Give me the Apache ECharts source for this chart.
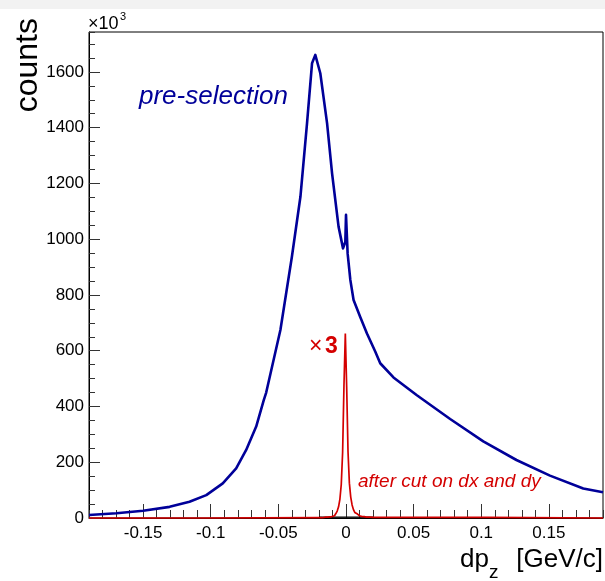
<!DOCTYPE html>
<html>
<head>
<meta charset="utf-8">
<script src="https://cdn.jsdelivr.net/npm/echarts@6/dist/echarts.min.js"></script>
<style>html,body{margin:0;padding:0;background:#fff;}#c{width:605px;height:581px;}</style>
</head>
<body>
<div id="c"></div>
<script>
// ---- data ----
const blueX = [-0.19, -0.1697, -0.150, -0.1304, -0.1157, -0.1033, -0.0911, -0.0812, -0.0738, -0.0664, -0.0608, -0.059, -0.0485, -0.040, -0.0337, -0.0288, -0.0251, -0.0227, -0.019, -0.014, -0.0103, -0.0055, -0.0022, -0.0005, 0.0, 0.0008, 0.0012, 0.0032, 0.0056, 0.0106, 0.0155, 0.0216, 0.0253, 0.0351, 0.0524, 0.077, 0.1015, 0.126, 0.1508, 0.1754, 0.19];
const blueY = [11, 17, 26, 40, 58, 82, 124, 178, 244, 328, 423, 450, 674, 937, 1152, 1416, 1631, 1661, 1595, 1416, 1236, 1045, 967, 990, 1087, 1087, 949, 854, 782, 720, 662, 597, 555, 504, 440, 355, 275, 208, 152, 106, 92];

const redX = [-0.19, -0.02, -0.015, -0.012, -0.011, -0.010, -0.009, -0.008, -0.007, -0.006, -0.005, -0.004, -0.003, -0.002, -0.001, 0.0, 0.001, 0.002, 0.003, 0.004, 0.005, 0.006, 0.007, 0.008, 0.009, 0.010, 0.011, 0.012, 0.015, 0.02, 0.19];
const redY = [0, 1, 3, 4, 5, 6, 8, 11, 16, 25, 40, 68, 120, 235, 475, 662, 470, 237, 125, 75, 47, 30, 20, 14, 10, 8, 6, 5, 3, 2, 0];

const blackX = [-0.02, -0.01, 0.0, 0.01, 0.02];
const blackY = [3, 3, 3, 3, 3];

const xTickLabels = [-0.15, -0.1, -0.05, 0, 0.05, 0.1, 0.15];
const yTickLabels = [0, 200, 400, 600, 800, 1000, 1200, 1400, 1600];

const xMin = -0.19, xMax = 0.19, yMin = 0, yMax = 1743;

const zip = (a, b) => a.map((v, i) => [v, b[i]]);

const FF = '"Liberation Sans", Arial, Helvetica, sans-serif';
const BLUE = '#000099';
const RED = '#d40000';

function fmtX(v) {
  if (Math.abs(v) < 1e-9) return '0';
  return String(Math.round(v * 100) / 100);
}
function fmtY(v) { return String(Math.round(v)); }

const chart = echarts.init(document.getElementById('c'), null, {renderer: 'canvas'});
chart.setOption({
  animation: false,
  backgroundColor: '#ffffff',
  grid: {left: 89, right: 2, top: 32, bottom: 63, show: true, borderColor: '#000', borderWidth: 1, backgroundColor: 'transparent'},
  xAxis: [
    {
      type: 'value', min: xMin, max: xMax, gridIndex: 0, position: 'bottom',
      axisLine: {show: true, onZero: false, lineStyle: {color: '#000', width: 1}},
      axisTick: {show: true, inside: true, length: 14, customValues: xTickLabels, lineStyle: {color: '#333', width: 1}},
      axisLabel: {show: true, customValues: xTickLabels, formatter: fmtX, fontSize: 17, fontFamily: FF, color: '#000', margin: 7},
      splitLine: {show: false}
    },
    {
      type: 'value', min: xMin, max: xMax, interval: 0.01, gridIndex: 0, position: 'bottom',
      axisLine: {show: false, onZero: false},
      axisTick: {show: true, inside: true, length: 8, lineStyle: {color: '#333', width: 1}},
      axisLabel: {show: false},
      splitLine: {show: false}
    }
  ],
  yAxis: [
    {
      type: 'value', min: yMin, max: yMax, gridIndex: 0, position: 'left',
      axisLine: {show: true, onZero: false, lineStyle: {color: '#000', width: 1}},
      axisTick: {show: true, inside: true, length: 11, customValues: yTickLabels, lineStyle: {color: '#333', width: 1}},
      axisLabel: {show: true, customValues: yTickLabels, formatter: fmtY, fontSize: 17, fontFamily: FF, color: '#000', margin: 5},
      splitLine: {show: false}
    },
    {
      type: 'value', min: yMin, max: yMax, interval: 50, gridIndex: 0, position: 'left',
      axisLine: {show: false, onZero: false},
      axisTick: {show: true, inside: true, length: 6, lineStyle: {color: '#333', width: 1}},
      axisLabel: {show: false},
      splitLine: {show: false}
    }
  ],
  series: [
    {
      type: 'line', name: 'pre-selection', xAxisIndex: 0, yAxisIndex: 0,
      data: zip(blueX, blueY), showSymbol: false, symbol: 'none',
      lineStyle: {color: BLUE, width: 2.6, join: 'round'}, z: 3, clip: true
    },
    {
      type: 'line', name: 'black', xAxisIndex: 0, yAxisIndex: 0,
      data: zip(blackX, blackY), showSymbol: false, symbol: 'none',
      lineStyle: {color: '#000', width: 1.2}, z: 4, clip: true
    },
    {
      type: 'line', name: 'after cut', xAxisIndex: 0, yAxisIndex: 0, step: 'middle',
      data: zip(redX, redY), showSymbol: false, symbol: 'none',
      lineStyle: {color: RED, width: 1.7}, z: 5, clip: false
    }
  ],
  graphic: [
    {type: 'rect', shape: {x: 0, y: 0, width: 605, height: 9}, style: {fill: '#f2f2f2'}, z: -10},
    {type: 'text', x: 28, y: 18, rotation: Math.PI / 2,
      style: {text: 'counts', font: '32px ' + FF, fill: '#000', align: 'right', verticalAlign: 'middle'}},
    {type: 'text', x: 88, y: 24,
      style: {text: '\u00d710', font: '18px ' + FF, fill: '#000', align: 'left', verticalAlign: 'middle'}},
    {type: 'text', x: 120, y: 17,
      style: {text: '3', font: '11px ' + FF, fill: '#000', align: 'left', verticalAlign: 'middle'}},
    {type: 'text', x: 139, y: 97,
      style: {text: 'pre-selection', font: 'italic 26px ' + FF, fill: BLUE, align: 'left', verticalAlign: 'middle'}},
    {type: 'text', x: 309, y: 347,
      style: {text: '\u00d7', font: '23px ' + FF, fill: RED, align: 'left', verticalAlign: 'middle'}},
    {type: 'text', x: 325, y: 347,
      style: {text: '3', font: 'bold 23px ' + FF, fill: RED, align: 'left', verticalAlign: 'middle'}},
    {type: 'text', x: 358, y: 482,
      style: {text: 'after cut on dx and dy', font: 'italic 19px ' + FF, fill: RED, align: 'left', verticalAlign: 'middle'}},
    {type: 'text', x: 460, y: 560,
      style: {text: 'dp', font: '26px ' + FF, fill: '#000', align: 'left', verticalAlign: 'middle'}},
    {type: 'text', x: 489, y: 573,
      style: {text: 'z', font: '19px ' + FF, fill: '#000', align: 'left', verticalAlign: 'middle'}},
    {type: 'text', x: 603, y: 560,
      style: {text: '[GeV/c]', font: '26px ' + FF, fill: '#000', align: 'right', verticalAlign: 'middle'}}
  ]
});
</script>
</body>
</html>
